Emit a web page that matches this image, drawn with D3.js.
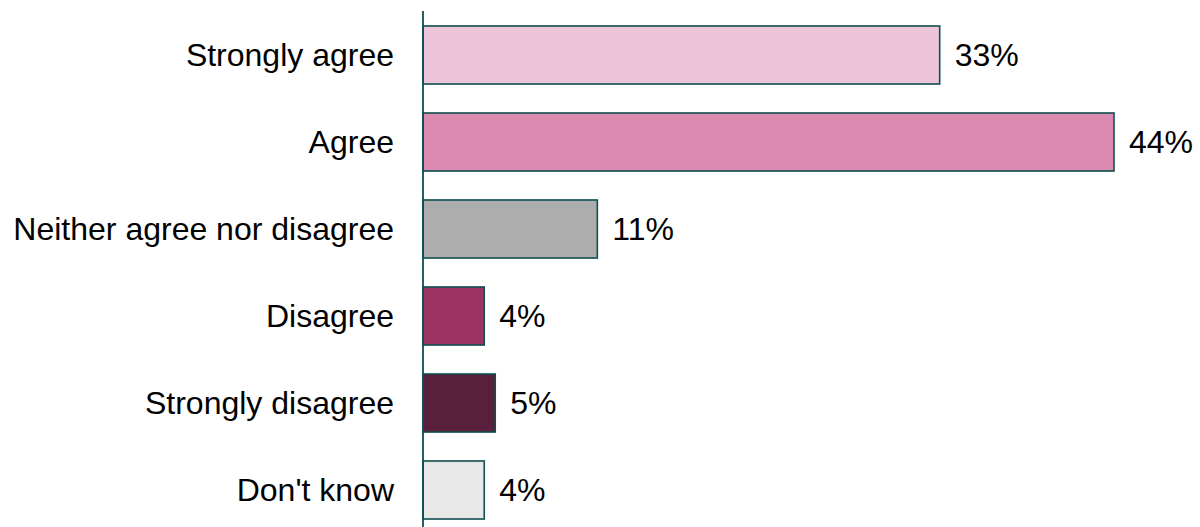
<!DOCTYPE html>
<html><head><meta charset="utf-8">
<script src="https://cdn.jsdelivr.net/npm/d3@7"></script>
<style>body{margin:0;background:#fff}svg{display:block}</style>
</head><body>
<svg id="c" width="1200" height="527"></svg>
<script>
const categories = ["Strongly agree","Agree","Neither agree nor disagree","Disagree","Strongly disagree","Don't know"];
const values = [32.9, 44.0, 11.1, 3.9, 4.6, 3.9];
const colors = ["#ecc5d8","#d98aae","#adadad","#9b3462","#5a1f3b","#e8e8e8"];

const svg = d3.select("#c");
const x0 = 423;
const x = d3.scaleLinear().domain([0, 44]).range([x0, 1114]);
const y = d3.scaleBand().domain(categories).range([11.5, 533.5]).paddingInner(0.333).paddingOuter(0.1665);
const font = "'Liberation Sans', Arial, sans-serif";

svg.selectAll("rect.bar").data(categories).join("rect")
  .attr("class","bar")
  .attr("x", x(0))
  .attr("y", d => y(d))
  .attr("width", (d,i) => x(values[i]) - x(0))
  .attr("height", y.bandwidth())
  .attr("fill", (d,i) => colors[i])
  .attr("stroke", "#0f4f4f")
  .attr("stroke-width", 1.6);

svg.append("line")
  .attr("x1", x0).attr("x2", x0)
  .attr("y1", 11).attr("y2", 527)
  .attr("stroke", "#0f4f4f").attr("stroke-width", 1.8);

svg.selectAll("text.cat").data(categories).join("text")
  .attr("class","cat")
  .attr("x", x0 - 29)
  .attr("y", d => y(d) + y.bandwidth()/2)
  .attr("dy", "0.35em")
  .attr("text-anchor","end")
  .attr("font-family", font)
  .attr("font-size", 32)
  .attr("fill", "#000")
  .text(d => d);

svg.selectAll("text.val").data(categories).join("text")
  .attr("class","val")
  .attr("x", (d,i) => x(values[i]) + 15)
  .attr("y", d => y(d) + y.bandwidth()/2)
  .attr("dy", "0.35em")
  .attr("font-family", font)
  .attr("font-size", 32)
  .attr("fill", "#000")
  .text((d,i) => Math.round(values[i]) + "%");
</script>
</body></html>
